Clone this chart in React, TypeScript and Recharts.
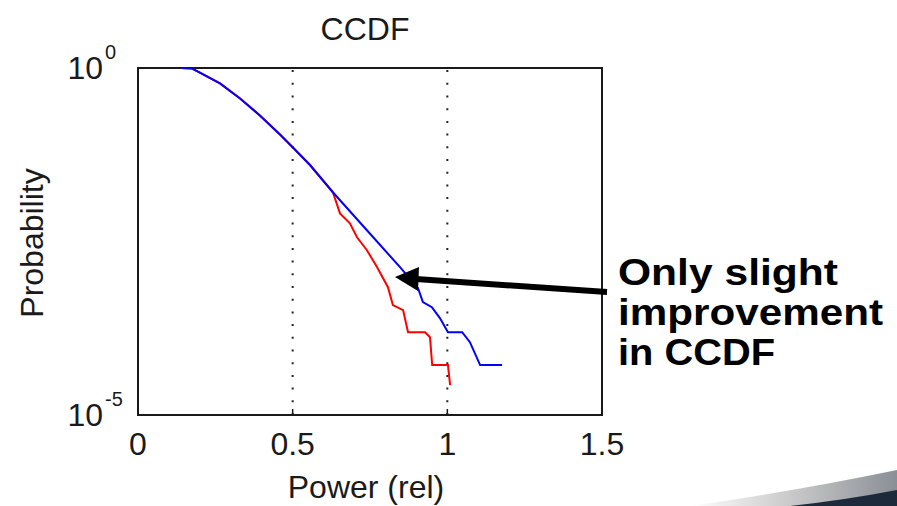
import { LineChart, Line, XAxis, YAxis, ReferenceLine, ReferenceArea } from "recharts";

// part of the curve where both traces coincide
const sharedPower = [0.14, 0.175, 0.2, 0.265, 0.33, 0.394, 0.459, 0.5, 0.556, 0.63];
const sharedProb = [1.0, 0.98, 0.86, 0.6, 0.364, 0.207, 0.11, 0.072, 0.04, 0.0162];

// blue tail (original signal)
const bluePower = [0.74, 0.847, 0.905, 0.921, 0.95, 0.976, 1.002, 1.048, 1.073, 1.106, 1.177];
const blueProb = [0.00459, 0.00135, 0.000676, 0.000423, 0.000358, 0.000249, 0.000156, 0.000156, 0.000112, 0.0000524, 0.0000524];

// red tail (after processing)
const redPower = [0.653, 0.685, 0.708, 0.74, 0.773, 0.808, 0.824, 0.857, 0.873, 0.928, 0.944, 0.951, 1.002, 1.009];
const redProb = [0.00805, 0.00579, 0.00364, 0.00237, 0.00135, 0.000695, 0.000383, 0.000324, 0.000156, 0.000156, 0.000132, 0.0000524, 0.0000524, 0.000027];

const xTicks = [0, 0.5, 1, 1.5];
const yTicks = [1e-5, 1];
const yTickExp = ["-5", "0"];
const gridX = [0.5, 1];

const toRows = (xs: number[], ps: number[]) => xs.map((x, i) => ({ x, p: ps[i] }));
const blueRows = toRows([...sharedPower, ...bluePower], [...sharedProb, ...blueProb]);
const redRows = toRows([...sharedPower, ...redPower], [...sharedProb, ...redProb]);

const FONT = "'Liberation Sans', Arial, sans-serif";
const INK = "#1a1a1a";

const XTick = (props: any) => {
  const { x, y, payload } = props;
  return (
    <g>
      <line x1={x} y1={y} x2={x} y2={y - 6} stroke={INK} strokeWidth={1.5} />
      <text x={x} y={y + 40} textAnchor="middle" fontSize={32} fontFamily={FONT} fill={INK}>
        {String(payload.value)}
      </text>
    </g>
  );
};

const YTick = (props: any) => {
  const { x, y, payload } = props;
  const exp = yTickExp[yTicks.indexOf(payload.value)];
  return (
    <g>
      <text x={x - 35} y={y + 11} textAnchor="end" fontSize={32} fontFamily={FONT} fill={INK}>
        10
      </text>
      <text x={x - 33} y={y - 9} textAnchor="start" fontSize={20} fontFamily={FONT} fill={INK}>
        {exp}
      </text>
    </g>
  );
};

const App = () => {
  return (
    <div style={{ position: "absolute", left: 0, top: 0, width: 897, height: 506, background: "#fff" }}>
      <LineChart
        width={897}
        height={506}
        margin={{ top: 68, right: 295, bottom: 0, left: 0 }}
      >
        <XAxis
          type="number"
          dataKey="x"
          domain={[0, 1.5]}
          ticks={xTicks}
          allowDataOverflow
          height={91}
          tickLine={false}
          axisLine={false}
          tickSize={0}
          tickMargin={0}
          tick={<XTick />}
        />
        <YAxis
          type="number"
          scale="log"
          domain={[1e-5, 1]}
          ticks={yTicks}
          allowDataOverflow
          width={138}
          tickLine={false}
          axisLine={false}
          tickSize={0}
          tickMargin={0}
          tick={<YTick />}
        />
        {gridX.map((g) => (
          <ReferenceLine key={g} x={g} stroke="#222" strokeWidth={2} strokeDasharray="2 10.7" />
        ))}
        <Line
          data={redRows}
          dataKey="p"
          type="linear"
          stroke="#ff0000"
          strokeWidth={2}
          dot={false}
          isAnimationActive={false}
        />
        <Line
          data={blueRows}
          dataKey="p"
          type="linear"
          stroke="#0000ff"
          strokeWidth={2}
          dot={false}
          isAnimationActive={false}
        />
        <ReferenceArea
          x1={0}
          x2={1.5}
          y1={1e-5}
          y2={1}
          fill="none"
          fillOpacity={0}
          stroke={INK}
          strokeWidth={2}
          ifOverflow="visible"
        />
      </LineChart>

      <svg
        width={897}
        height={506}
        style={{ position: "absolute", left: 0, top: 0, pointerEvents: "none" }}
      >
        <defs>
          <linearGradient id="swoosh" x1="0" y1="0" x2="1" y2="0">
            <stop offset="0" stopColor="#ffffff" />
            <stop offset="0.5" stopColor="#c8c8c8" />
            <stop offset="1" stopColor="#8a8f96" />
          </linearGradient>
        </defs>
        <path d="M 690 506 Q 790 492 897 470 L 897 506 Z" fill="url(#swoosh)" />
        <path d="M 790 506 Q 845 500 897 490 L 897 506 Z" fill="#1c2a3c" />

        <text x={365} y={40} textAnchor="middle" fontSize={32} fontFamily={FONT} fill={INK}>
          CCDF
        </text>
        <text x={366} y={498} textAnchor="middle" fontSize={32} fontFamily={FONT} fill={INK}>
          Power (rel)
        </text>
        <text
          transform="translate(43 243) rotate(-90)"
          textAnchor="middle"
          fontSize={32}
          fontFamily={FONT}
          fill={INK}
        >
          Probability
        </text>

        <line x1={607} y1={292} x2={416} y2={279} stroke="#000" strokeWidth={6} />
        <polygon points="395,277 419,267 418,291" fill="#000" />

        <g fontFamily={FONT} fontWeight="bold" fontSize={37} fill="#000">
          <text x={618} y={285} textLength={220} lengthAdjust="spacingAndGlyphs">
            Only slight
          </text>
          <text x={618} y={325} textLength={265} lengthAdjust="spacingAndGlyphs">
            improvement
          </text>
          <text x={618} y={365} textLength={157} lengthAdjust="spacingAndGlyphs">
            in CCDF
          </text>
        </g>
      </svg>
    </div>
  );
};

export default App;
